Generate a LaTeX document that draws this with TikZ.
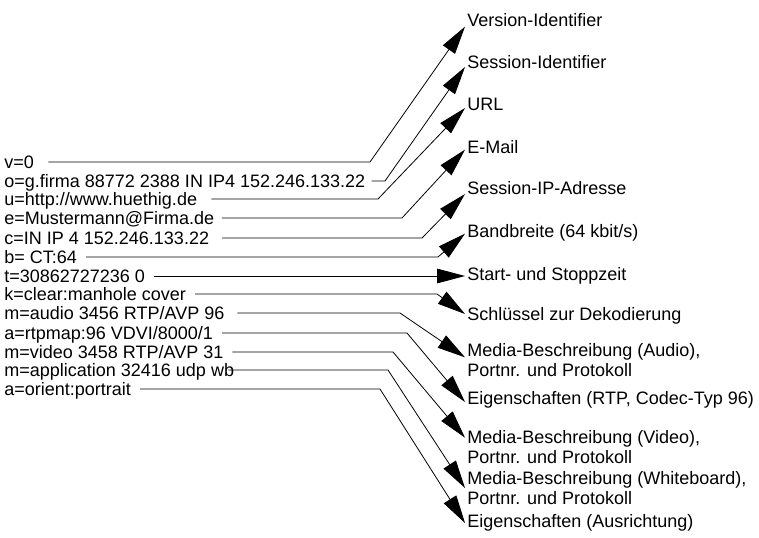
\documentclass[tikz,border=0pt]{standalone}
\usepackage{fontspec}
\setmainfont{Liberation Sans}
\usetikzlibrary{arrows.meta}
\tikzset{
  every node/.style={text=black, font=\fontsize{13.5}{15}\selectfont, inner sep=1.5pt},
  every path/.style={line width=0.6pt},
  field/.style={anchor=west, text height=9.7pt, text depth=0pt},
  meaning/.style={anchor=west, text height=9.7pt, text depth=0pt},
  meaningtwo/.style={anchor=west, align=left},
  pointer/.style={draw=black, -{Triangle[length=21pt, width=11pt]}}
}

\begin{document}
\begin{tikzpicture}[x=0.75pt, y=-0.75pt]
  \useasboundingbox (0,0) rectangle (759,538);
  % Nodes
  \node[field] (v) at (2,162) {v=0};
  \node[field] (o) at (2,181) {o=g.firma 88772 2388 IN IP4 152.246.133.22};
  \node[field] (u) at (2,199) {u=http://www.huethig.de};
  \node[field] (e) at (2,218) {e=Mustermann@Firma.de};
  \node[field] (c) at (2,238) {c=IN IP 4 152.246.133.22};
  \node[field] (b) at (2,257) {b= CT:64};
  \node[field] (t) at (2,276) {t=30862727236 0};
  \node[field] (k) at (2,294) {k=clear:manhole cover};
  \node[field] (maudio) at (2,313) {m=audio 3456 RTP/AVP 96};
  \node[field] (artp) at (2,333) {a=rtpmap:96 VDVI/8000/1};
  \node[field] (mvideo) at (2,352) {m=video 3458 RTP/AVP 31};
  \node[field] (mapp) at (2,370) {m=application 32416 udp wb};
  \node[field] (aorient) at (2,389) {a=orient:portrait};

  \node[meaning] (version) at (465,20) {Version-Identifier};
  \node[meaning] (session) at (465,62) {Session-Identifier};
  \node[meaning] (url) at (465,104) {URL};
  \node[meaning] (email) at (465,147) {E-Mail};
  \node[meaning] (sessip) at (465,188) {Session-IP-Adresse};
  \node[meaning] (bw) at (465,231) {Bandbreite (64 kbit/s)};
  \node[meaning] (time) at (465,274) {Start- und Stoppzeit};
  \node[meaning] (key) at (465,314) {Schlüssel zur Dekodierung};
  \node[meaningtwo] (audio) at (465,360) {Media-Beschreibung (Audio),\\Portnr. und Protokoll};
  \node[meaning] (rtp) at (465,398) {Eigenschaften (RTP, Codec-Typ 96)};
  \node[meaningtwo] (video) at (465,447) {Media-Beschreibung (Video),\\Portnr. und Protokoll};
  \node[meaningtwo] (wboard) at (465,488) {Media-Beschreibung (Whiteboard),\\Portnr. und Protokoll};
  \node[meaning] (orient) at (465,521) {Eigenschaften (Ausrichtung)};

  \draw[pointer] ([xshift=9pt]v.east) -- (370,0 |- v.east) -- ([yshift=-5pt]version.west);
  \draw[pointer] ([xshift=3pt]o.east) -- (385,0 |- o.east) -- ([yshift=-3.75pt]session.west);
  \draw[pointer] ([xshift=9pt]u.east) -- (378,0 |- u.east) -- ([yshift=-3pt]url.west);
  \draw[pointer] ([xshift=4pt]e.east) -- (402,0 |- e.east) -- ([yshift=-2pt]email.west);
  \draw[pointer] ([xshift=8pt]c.east) -- (422,0 |- c.east) -- ([yshift=-4.5pt]sessip.west);
  \draw[pointer] ([xshift=5pt]b.east) -- (438,0 |- b.east) -- ([yshift=-2pt]bw.west);
  \draw[pointer] ([xshift=5pt]t.east) -- (t.east -| time.west);
  \draw[pointer] ([xshift=5pt]k.east) -- (437,0 |- k.east) -- (key.west);
  \draw[pointer] ([xshift=8pt]maudio.east) -- (400,0 |- maudio.east) -- ([yshift=2pt]audio.west);
  \draw[pointer] ([xshift=5pt]artp.east) -- (407,0 |- artp.east) -- ([yshift=-3pt]rtp.west);
  \draw[pointer] ([xshift=5pt]mvideo.east) -- (393,0 |- mvideo.east) -- ([yshift=7pt]video.west);
  \draw[pointer] ([xshift=-6pt]mapp.east) -- (388,0 |- mapp.east) -- (wboard.west);
  \draw[pointer] ([xshift=5pt]aorient.east) -- (380,0 |- aorient.east) -- ([yshift=-1.5pt]orient.west);
\end{tikzpicture}
\end{document}
